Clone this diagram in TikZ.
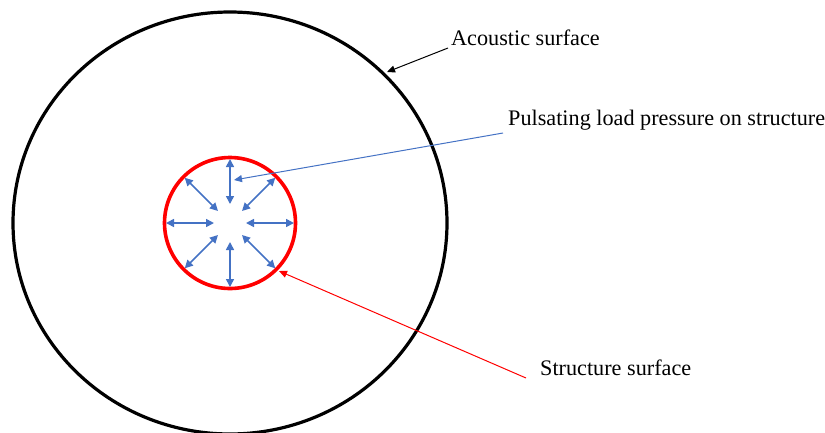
\documentclass[tikz,border=0pt]{standalone}
\usepackage{fontspec}
\setmainfont{Liberation Serif}
\usetikzlibrary{arrows.meta,shapes.geometric,calc}
\definecolor{pblue}{HTML}{4472C4}
\definecolor{pred}{HTML}{FF0000}
\begin{document}
\begin{tikzpicture}[x=1pt,y=-1pt,
  lbl/.style={anchor=base west,inner sep=0pt,font=\fontsize{22.2}{26}\selectfont},
  press/.style={pblue,line width=1.6pt,{Triangle[length=8pt,width=8pt]}-{Triangle[length=8pt,width=8pt]}},
  ptr/.style={line width=1pt,-{Triangle[length=8pt,width=7pt]}}]
\useasboundingbox (0,0) rectangle (825,432);
\node[draw,ellipse,line width=3.2pt,minimum width=434pt,minimum height=422pt,inner sep=0pt] (outer) at (230,223) {};
\node[draw=pred,circle,line width=3.6pt,minimum size=131pt,inner sep=0pt] (struct) at (230,223) {};
\coordinate (c) at (230,223);
\foreach \a/\ri in {0/16,45/17,90/19,135/17,180/16,225/17,270/19,315/17}{
  \coordinate (in\a) at ($(c)+(\a:\ri)$);
}
\foreach \a in {0,45,90,135,180,225,270,315}{
  \coordinate (out\a) at ($(c)+(\a:64)$);
  \draw[press] (in\a) -- (out\a);
}
\node[lbl] (acl) at (451,45) {Acoustic surface};
\node[lbl] (pll) at (508,125) {Pulsating load pressure on structure};
\node[lbl] (ssl) at (540,375) {Structure surface};
\coordinate (a1) at (448,48);
\coordinate (a2) at (387,72);
\coordinate (b1) at (503,133);
\coordinate (b2) at (234,180);
\coordinate (r1) at (526,378);
\coordinate (r2) at (279,271);
\draw[ptr,black] (a1) -- (a2);
\draw[ptr,pblue] (b1) -- (b2);
\draw[ptr,pred] (r1) -- (r2);
\end{tikzpicture}
\end{document}
